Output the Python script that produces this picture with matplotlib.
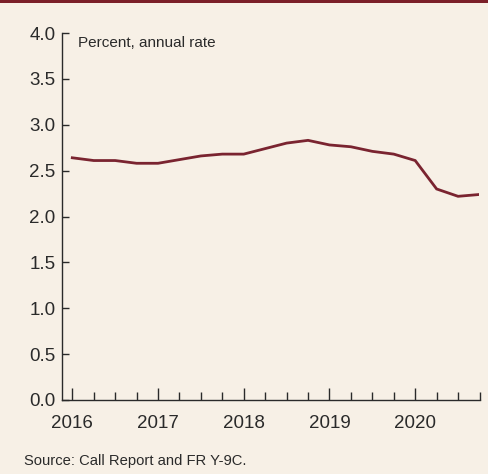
import matplotlib
matplotlib.use('Agg')
from matplotlib import pyplot as plt
from matplotlib.ticker import MultipleLocator

quarters = ['2016Q1', '2016Q2', '2016Q3', '2016Q4',
            '2017Q1', '2017Q2', '2017Q3', '2017Q4',
            '2018Q1', '2018Q2', '2018Q3', '2018Q4',
            '2019Q1', '2019Q2', '2019Q3', '2019Q4',
            '2020Q1', '2020Q2', '2020Q3', '2020Q4']
rate = [2.64, 2.61, 2.61, 2.58,
        2.58, 2.62, 2.66, 2.68,
        2.68, 2.74, 2.80, 2.83,
        2.78, 2.76, 2.71, 2.68,
        2.61, 2.30, 2.22, 2.24]
years = [2016, 2017, 2018, 2019, 2020]
yticks = [0.0, 0.5, 1.0, 1.5, 2.0, 2.5, 3.0, 3.5, 4.0]

BG = '#f7f0e6'
LINE = '#7a2430'
INK = '#2a2a2a'
plt.rcParams['font.family'] = ['Liberation Sans', 'DejaVu Sans']

x = [int(q[:4]) + (int(q[-1]) - 1) / 4 for q in quarters]

fig = plt.figure(figsize=(4.89, 4.74), dpi=100, facecolor=BG)
# thin maroon band across the top
fig.add_artist(plt.Rectangle((0, 1 - 3 / 474), 1, 3 / 474, transform=fig.transFigure,
                             color='#7b1f29', lw=0))

ax = fig.add_axes([62 / 489, 74 / 474, (479.5 - 62) / 489, (400 - 33) / 474])
ax.set_facecolor(BG)
ax.plot(x, rate, color=LINE, lw=2.0, solid_joinstyle='miter')

ax.set_xlim(2015.88, 2020.75)
ax.set_ylim(0, 4)
ax.set_yticks(yticks)
ax.set_yticklabels([f'{v:.1f}' for v in yticks])
ax.set_xticks(years)
ax.set_xticklabels([str(y) for y in years])
ax.xaxis.set_minor_locator(MultipleLocator(0.25))

for s in ['top', 'right']:
    ax.spines[s].set_visible(False)
for s in ['left', 'bottom']:
    ax.spines[s].set_color(INK)
    ax.spines[s].set_linewidth(1.0)

ax.tick_params(axis='y', direction='in', length=5, width=1.0, color=INK,
               labelsize=13.5, labelcolor=INK, pad=4.5)
ax.tick_params(axis='x', which='major', direction='in', length=9, width=1.0, color=INK,
               labelsize=13.5, labelcolor=INK, pad=11)
ax.tick_params(axis='x', which='minor', direction='in', length=5.5, width=1.0, color=INK)

ax.text(2016.07, 3.85, 'Percent, annual rate', fontsize=11, color=INK,
        va='baseline', ha='left')
fig.text(24 / 489, 1 - 465.5 / 474, 'Source: Call Report and FR Y-9C.', fontsize=10.6,
         color=INK, va='baseline', ha='left')

fig.savefig('out.png', dpi=100, facecolor=BG)
